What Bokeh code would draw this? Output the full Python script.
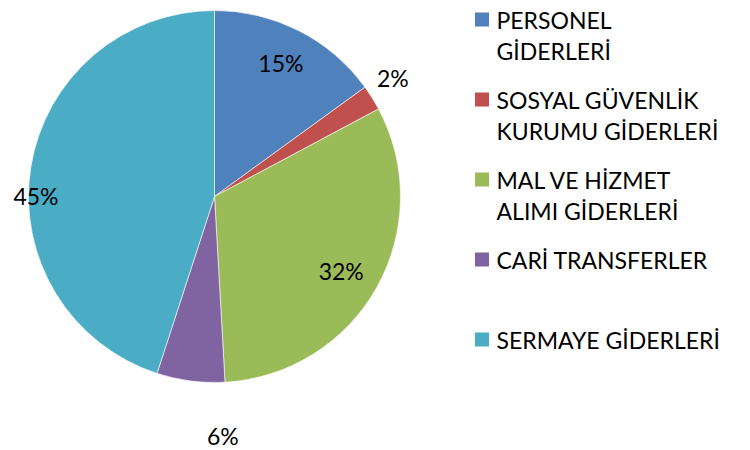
import math
from bokeh.plotting import figure
from bokeh.models import Range1d, ColumnDataSource
from bokeh.core.properties import value
from bokeh.embed import file_html
from bokeh.resources import INLINE

# ---- data ----
categories = ["PERSONEL\nGİDERLERİ", "SOSYAL GÜVENLİK\nKURUMU GİDERLERİ",
              "MAL VE HİZMET\nALIMI GİDERLERİ", "CARİ TRANSFERLER", "SERMAYE GİDERLERİ"]
values = [15.0, 2.2, 31.9, 5.9, 45.0]
colors = ["#4F81BD", "#C0504D", "#9BBB59", "#8064A2", "#4BACC6"]

# ---- layout (label placement, polar: degrees clockwise from top, radius fraction) ----
label_angle_deg = [26.5, 56.5, 120.4, 178.0, 270.3]
label_radius_frac = [0.80, 1.15, 0.79, 1.29, 0.96]

FONT = "Lato"
FS = "23px"
W, H = 750, 450
cx, cy, R = 214, H - 196, 186

p = figure(width=W, height=H, output_backend="svg", toolbar_location=None,
           x_range=Range1d(0, W), y_range=Range1d(0, H),
           min_border=0, outline_line_color=None)
p.axis.visible = False
p.grid.visible = False
p.background_fill_color = "white"
p.border_fill_color = "white"

total = sum(values)
starts, ends, pct = [], [], []
cum = 0.0
for v in values:
    starts.append(math.pi / 2 - 2 * math.pi * cum / total)
    cum += v
    ends.append(math.pi / 2 - 2 * math.pi * cum / total)
    pct.append(f"{round(v / total * 100)}%")

src = ColumnDataSource(dict(start=starts, end=ends, color=colors))
p.wedge(x=cx, y=cy, radius=R, radius_units="screen", start_angle="start", end_angle="end",
        direction="clock", fill_color="color", line_color="white", line_width=0.6, source=src)

lx = [cx + R * f * math.sin(math.radians(a)) for a, f in zip(label_angle_deg, label_radius_frac)]
ly = [cy + R * f * math.cos(math.radians(a)) for a, f in zip(label_angle_deg, label_radius_frac)]
p.text(x=lx, y=ly, text=pct, text_font=value(FONT), text_font_size=FS, text_color="black",
       text_align="center", text_baseline="middle")

# ---- legend ----
leg_x, leg_sq0, leg_step, line_step = 474, H - 19, 80, 31
sq_x, sq_y = [], []
tx, ty, tt = [], [], []
for i, cat in enumerate(categories):
    sqc = leg_sq0 - i * leg_step
    sq_x.append(leg_x + 7.5)
    sq_y.append(sqc)
    for j, line in enumerate(cat.split("\n")):
        tx.append(leg_x + 22)
        ty.append(sqc - j * line_step)
        tt.append(line)
p.rect(x=sq_x, y=sq_y, width=14, height=14, width_units="screen", height_units="screen",
       fill_color=colors, line_color=None)
p.text(x=tx, y=ty, text=tt, text_font=value(FONT), text_font_size=FS, text_color="black",
       text_align="left", text_baseline="middle")

open("out.html", "w").write(file_html(p, INLINE))
